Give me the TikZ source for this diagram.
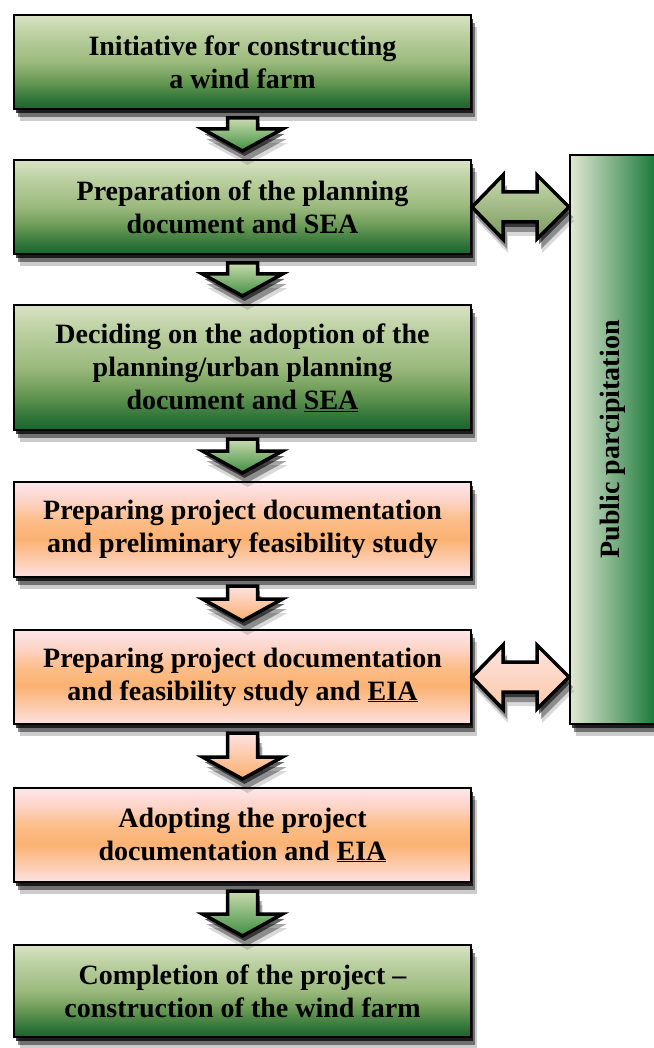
\documentclass[tikz,border=0pt]{standalone}
\usepackage{fontspec}
\setmainfont{Liberation Serif}
\usetikzlibrary{calc,shadows}
\definecolor{gA}{HTML}{1C632E}
\definecolor{gB}{HTML}{2F7438}
\definecolor{gC}{HTML}{6A9A55}
\definecolor{gD}{HTML}{9BB97D}
\definecolor{gE}{HTML}{BCD0A2}
\definecolor{gF}{HTML}{D8E3C4}
\definecolor{oA}{HTML}{FDE2E2}
\definecolor{oB}{HTML}{FCC9A8}
\definecolor{oC}{HTML}{FBB272}
\definecolor{oD}{HTML}{FCBD88}
\definecolor{oE}{HTML}{FDD3C6}
\definecolor{oF}{HTML}{FDE6EA}
\definecolor{barL}{HTML}{E1E8D2}
\definecolor{barM}{HTML}{A0BB78}
\definecolor{barR}{HTML}{1D7A3C}
\definecolor{agT}{HTML}{C9DBB0}
\definecolor{agM}{HTML}{8FB26C}
\definecolor{agB}{HTML}{3F8F3F}
\definecolor{aoT}{HTML}{FDE3E0}
\definecolor{aoM}{HTML}{FBB878}
\definecolor{aoB}{HTML}{FBAE6E}
\pgfdeclareverticalshading{greenbox}{100bp}{color(0bp)=(gA); color(25bp)=(gA); color(30bp)=(gB); color(40bp)=(gC); color(50bp)=(gD); color(65bp)=(gE); color(75bp)=(gF); color(100bp)=(gF)}
\pgfdeclareverticalshading{orangebox}{100bp}{color(0bp)=(oA); color(25bp)=(oA); color(35bp)=(oB); color(45bp)=(oC); color(55bp)=(oD); color(65bp)=(oE); color(75bp)=(oF); color(100bp)=(oF)}
\newcommand{\downarr}[3]{%
  \path[#3] ($(#1.south)+(-15,8)$) -- ($(#1.south)+(15,8)$) -- ($(#2.north)+(15,-30)$)
    -- ($(#2.north)+(40,-30)$) -- ($(#2.north)+(0,-8)$) -- ($(#2.north)+(-40,-30)$)
    -- ($(#2.north)+(-15,-30)$) -- cycle;}
\newcommand{\dblarr}[4]{%
  \coordinate (#4) at (#1.east -| #2.west);
  \path[#3] (#1.east) -- ($(#1.east)+(31,-32)$) -- ($(#1.east)+(31,-15)$)
    -- ($(#4)+(-32,-15)$) -- ($(#4)+(-32,-32)$) -- (#4) -- ($(#4)+(-32,32)$)
    -- ($(#4)+(-32,15)$) -- ($(#1.east)+(31,15)$) -- ($(#1.east)+(31,32)$) -- cycle;}
\begin{document}
\begin{tikzpicture}[x=1pt,y=-1pt,
  shadowed/.style={
    drop shadow={shadow xshift=2pt,shadow yshift=-4pt,opacity=.75,fill=black},
    drop shadow={shadow xshift=4pt,shadow yshift=-8pt,opacity=.45,fill=black},
    drop shadow={shadow xshift=6pt,shadow yshift=-12pt,opacity=.2,fill=black}},
  box/.style={draw=black, line width=2pt, minimum width=457pt, inner sep=0pt,
    align=center, font=\fontsize{28}{33}\selectfont\bfseries, text=black, shadowed, shade},
  gbox/.style={box, shading=greenbox},
  obox/.style={box, shading=orangebox},
  arr/.style={draw=black, line width=3.5pt, line join=miter, miter limit=10,
    drop shadow={shadow xshift=2pt,shadow yshift=-5pt,opacity=.6,fill=black},
    drop shadow={shadow xshift=4pt,shadow yshift=-10pt,opacity=.35,fill=black},
    drop shadow={shadow xshift=5pt,shadow yshift=-14pt,opacity=.15,fill=black}},
  garr/.style={arr, top color=agT, middle color=agM, bottom color=agB},
  oarr/.style={arr, top color=aoT, middle color=aoM, bottom color=aoB},
  gdbl/.style={arr, top color=agT, middle color=agM, bottom color=agM!85!black},
  odbl/.style={arr, top color=aoT, middle color=aoM, bottom color=oB},
  barstyle/.style={draw=black, line width=2pt, minimum width=85pt, minimum height=569pt,
    inner sep=0pt, left color=barL, middle color=barM, right color=barR, shadowed},
  bartext/.style={rotate=90, font=\fontsize{28}{33}\selectfont\bfseries, text=black}
  ]
\useasboundingbox (0,0) rectangle (653,1048);
\node[gbox, minimum height=94pt] (b1) at (242.5,62) {Initiative for constructing\\a wind farm};
\node[gbox, minimum height=94pt] (b2) at (242.5,207) {Preparation of the planning\\document and SEA};
\node[gbox, minimum height=125pt] (b3) at (242.5,367.5) {Deciding on the adoption of the\\planning/urban planning\\document and \underline{SEA}};
\node[obox, minimum height=95pt] (b4) at (242.5,529.5) {Preparing project documentation\\and preliminary feasibility study};
\node[obox, minimum height=94pt] (b5) at (242.5,677) {Preparing project documentation\\and feasibility study and \underline{EIA}};
\node[obox, minimum height=94pt] (b6) at (242.5,835) {Adopting the project\\documentation and \underline{EIA}};
\node[gbox, minimum height=92pt] (b7) at (242.5,991) {Completion of the project --\\construction of the wind farm};
\node[barstyle] (bar) at (612.5,439.5) {};
\node[bartext] (bart) at (bar.center) {Public parcipitation};
\downarr{b1}{b2}{garr}
\downarr{b2}{b3}{garr}
\downarr{b3}{b4}{garr}
\downarr{b4}{b5}{oarr}
\downarr{b5}{b6}{oarr}
\downarr{b6}{b7}{garr}
\dblarr{b2}{bar}{gdbl}{r2}
\dblarr{b5}{bar}{odbl}{r5}
\end{tikzpicture}
\end{document}
